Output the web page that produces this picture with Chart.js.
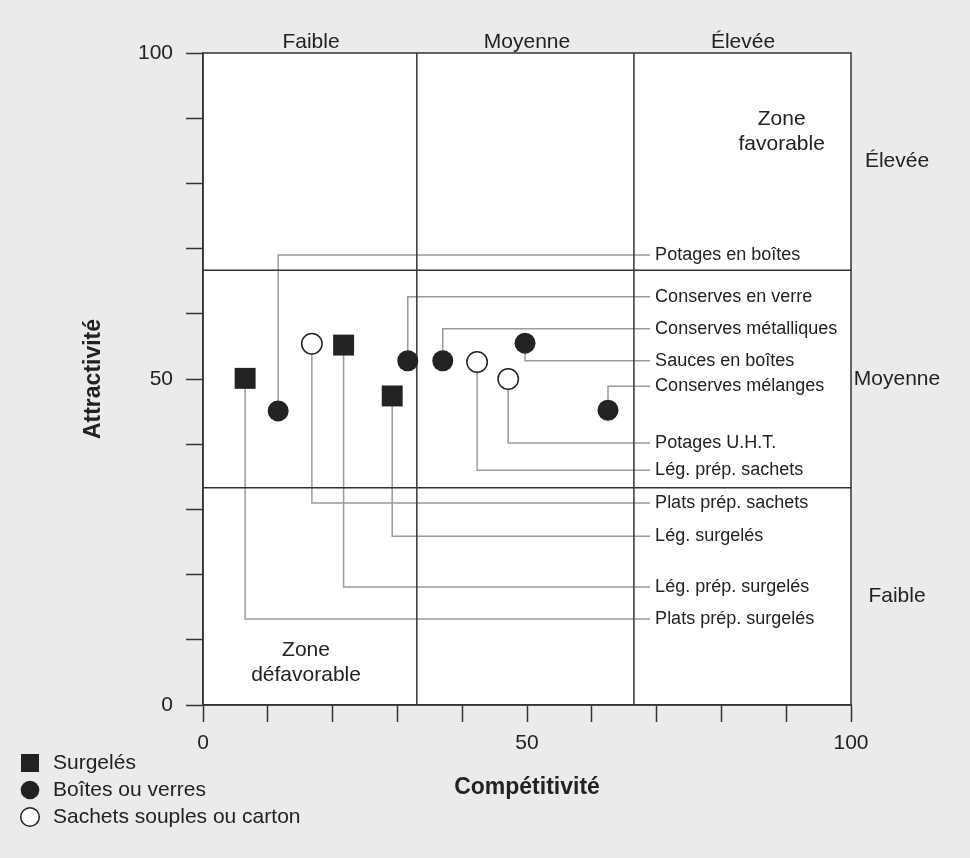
<!DOCTYPE html>
<html lang="fr">
<head>
<meta charset="utf-8">
<script src="https://cdn.jsdelivr.net/npm/chart.js@4.4.1/dist/chart.umd.min.js"></script>
<style>
  html, body { margin: 0; padding: 0; background: #ebebeb; }
  canvas { display: block; }
</style>
</head>
<body>
<canvas id="matrix" width="970" height="858"></canvas>
<script>
// values: x = compétitivité, y = attractivité (0-100)
const surgelesNames = ["Plats prép. surgelés", "Lég. prép. surgelés", "Lég. surgelés"];
const surgelesX = [6.5, 21.7, 29.2];
const surgelesY = [50.1, 55.2, 47.4];
const surgelesLabelY = [13.2, 18.1, 25.9];

const boitesNames = ["Potages en boîtes", "Conserves en verre", "Conserves métalliques", "Sauces en boîtes", "Conserves mélanges"];
const boitesX = [11.6, 31.6, 37.0, 49.7, 62.5];
const boitesY = [45.1, 52.8, 52.8, 55.5, 45.2];
const boitesLabelY = [69.0, 62.6, 57.7, 52.8, 48.9];

const sachetsNames = ["Plats prép. sachets", "Lég. prép. sachets", "Potages U.H.T."];
const sachetsX = [16.8, 42.3, 47.1];
const sachetsY = [55.4, 52.6, 50.0];
const sachetsLabelY = [31.0, 36.0, 40.2];

const levelLabels = ["Faible", "Moyenne", "Élevée"];
const levelCenters = [100 / 6, 50, 500 / 6];
const xThresholds = [33.0, 66.5];
const yThresholds = [100 / 3, 200 / 3];
const shownTicks = [0, 50, 100];
const leaderEnd = 69;   // where the leader lines stop, in x units

const FONT = "'Liberation Sans', Arial, Helvetica, sans-serif";
const INK = "#222";

Chart.defaults.font.family = FONT;
Chart.defaults.color = INK;

const groups = [
  { label: "Surgelés", names: surgelesNames, xs: surgelesX, ys: surgelesY, ly: surgelesLabelY,
    style: "rect", radius: 14.8, fill: INK },
  { label: "Boîtes ou verres", names: boitesNames, xs: boitesX, ys: boitesY, ly: boitesLabelY,
    style: "circle", radius: 10.5, fill: INK },
  { label: "Sachets souples ou carton", names: sachetsNames, xs: sachetsX, ys: sachetsY, ly: sachetsLabelY,
    style: "circle", radius: 10.2, fill: "#fff" }
];

const datasets = [];
const leaderTexts = [];

// leader lines, drawn first (under everything)
groups.forEach(g => {
  g.names.forEach((name, i) => {
    datasets.push({
      type: "line",
      label: name,
      data: [
        { x: g.xs[i], y: g.ys[i] },
        { x: g.xs[i], y: g.ly[i] },
        { x: leaderEnd, y: g.ly[i] }
      ],
      borderColor: "#9b9b9b",
      borderWidth: 1.5,
      pointRadius: 0,
      fill: false,
      tension: 0,
      order: 3
    });
    leaderTexts.push({ name, y: g.ly[i] });
  });
});

// quadrant dividers
xThresholds.forEach(t => {
  datasets.push({ type: "line", data: [{ x: t, y: 0 }, { x: t, y: 100 }],
    borderColor: "#333", borderWidth: 1.5, pointRadius: 0, order: 2 });
});
yThresholds.forEach(t => {
  datasets.push({ type: "line", data: [{ x: 0, y: t }, { x: 100, y: t }],
    borderColor: "#333", borderWidth: 1.5, pointRadius: 0, order: 2 });
});

// markers
groups.forEach(g => {
  datasets.push({
    type: "scatter",
    label: g.label,
    data: g.xs.map((x, i) => ({ x, y: g.ys[i] })),
    pointStyle: g.style,
    pointRadius: g.radius,
    backgroundColor: g.fill,
    borderColor: INK,
    borderWidth: g.fill === INK ? 0 : 1.5,
    order: 1
  });
});

const decor = {
  id: "decor",
  beforeDraw(chart) {
    const { ctx, chartArea: a } = chart;
    ctx.save();
    ctx.fillStyle = "#fff";
    ctx.fillRect(a.left, a.top, a.right - a.left, a.bottom - a.top);
    ctx.restore();
  },
  afterDraw(chart) {
    const { ctx, chartArea: a, scales: { x, y } } = chart;
    ctx.save();
    ctx.strokeStyle = "#333";
    ctx.lineWidth = 1.5;
    ctx.strokeRect(a.left, a.top, a.right - a.left, a.bottom - a.top);

    ctx.fillStyle = INK;
    ctx.textBaseline = "middle";

    // level names above and to the right
    ctx.font = "21px " + FONT;
    ctx.textAlign = "center";
    levelCenters.forEach((v, i) => {
      ctx.fillText(levelLabels[i], x.getPixelForValue(v), a.top - 11);
      ctx.fillText(levelLabels[i], a.right + 46, y.getPixelForValue(v));
    });

    // zone captions
    const zx1 = x.getPixelForValue(89.3), zy1 = y.getPixelForValue(88);
    ctx.fillText("Zone", zx1, zy1 - 12.5);
    ctx.fillText("favorable", zx1, zy1 + 12.5);
    const zx2 = x.getPixelForValue(15.9), zy2 = y.getPixelForValue(6.5);
    ctx.fillText("Zone", zx2, zy2 - 12.5);
    ctx.fillText("défavorable", zx2, zy2 + 12.5);

    // product names at the end of the leaders
    ctx.font = "18px " + FONT;
    ctx.textAlign = "left";
    const tx = x.getPixelForValue(leaderEnd) + 5;
    leaderTexts.forEach(t => ctx.fillText(t.name, tx, y.getPixelForValue(t.y)));

    // legend, stacked bottom left
    ctx.font = "21px " + FONT;
    groups.forEach((g, i) => {
      const ly = 763 + i * 27;
      ctx.fillStyle = g.fill;
      ctx.strokeStyle = INK;
      ctx.lineWidth = 1.5;
      if (g.style === "rect") {
        ctx.fillRect(21, ly - 9, 18, 18);
      } else {
        ctx.beginPath();
        ctx.arc(30, ly, 9.3, 0, Math.PI * 2);
        ctx.fill();
        if (g.fill !== INK) ctx.stroke();
      }
      ctx.fillStyle = INK;
      ctx.fillText(g.label, 53, ly);
    });
    ctx.restore();
  }
};

const axisGrid = {
  drawOnChartArea: false,
  drawTicks: true,
  tickLength: 17,
  tickColor: "#333",
  tickWidth: 1.5
};

new Chart(document.getElementById("matrix"), {
  type: "scatter",
  data: { datasets },
  options: {
    responsive: false,
    animation: false,
    layout: { padding: { top: 53, right: 119, left: 0, bottom: 0 } },
    plugins: { legend: { display: false }, tooltip: { enabled: false } },
    scales: {
      x: {
        type: "linear",
        position: "bottom",
        min: 0,
        max: 100,
        grid: axisGrid,
        border: { color: "#333", width: 1.5 },
        ticks: {
          stepSize: 10,
          autoSkip: false,
          maxRotation: 0,
          padding: 9,
          font: { size: 21 },
          callback: v => shownTicks.includes(v) ? String(v) : ""
        },
        title: {
          display: true,
          text: "Compétitivité",
          font: { size: 23, weight: "bold" },
          padding: { bottom: 57 }
        },
        afterFit: s => { s.height = 153; }
      },
      y: {
        type: "linear",
        position: "left",
        min: 0,
        max: 100,
        grid: axisGrid,
        border: { color: "#333", width: 1.5 },
        ticks: {
          stepSize: 10,
          autoSkip: false,
          padding: 13,
          font: { size: 21 },
          callback: v => shownTicks.includes(v) ? String(v) : ""
        },
        title: {
          display: true,
          text: "Attractivité",
          font: { size: 23, weight: "bold" },
          padding: { top: 80 }
        },
        afterFit: s => { s.width = 203; }
      }
    }
  },
  plugins: [decor]
});
</script>
</body>
</html>
